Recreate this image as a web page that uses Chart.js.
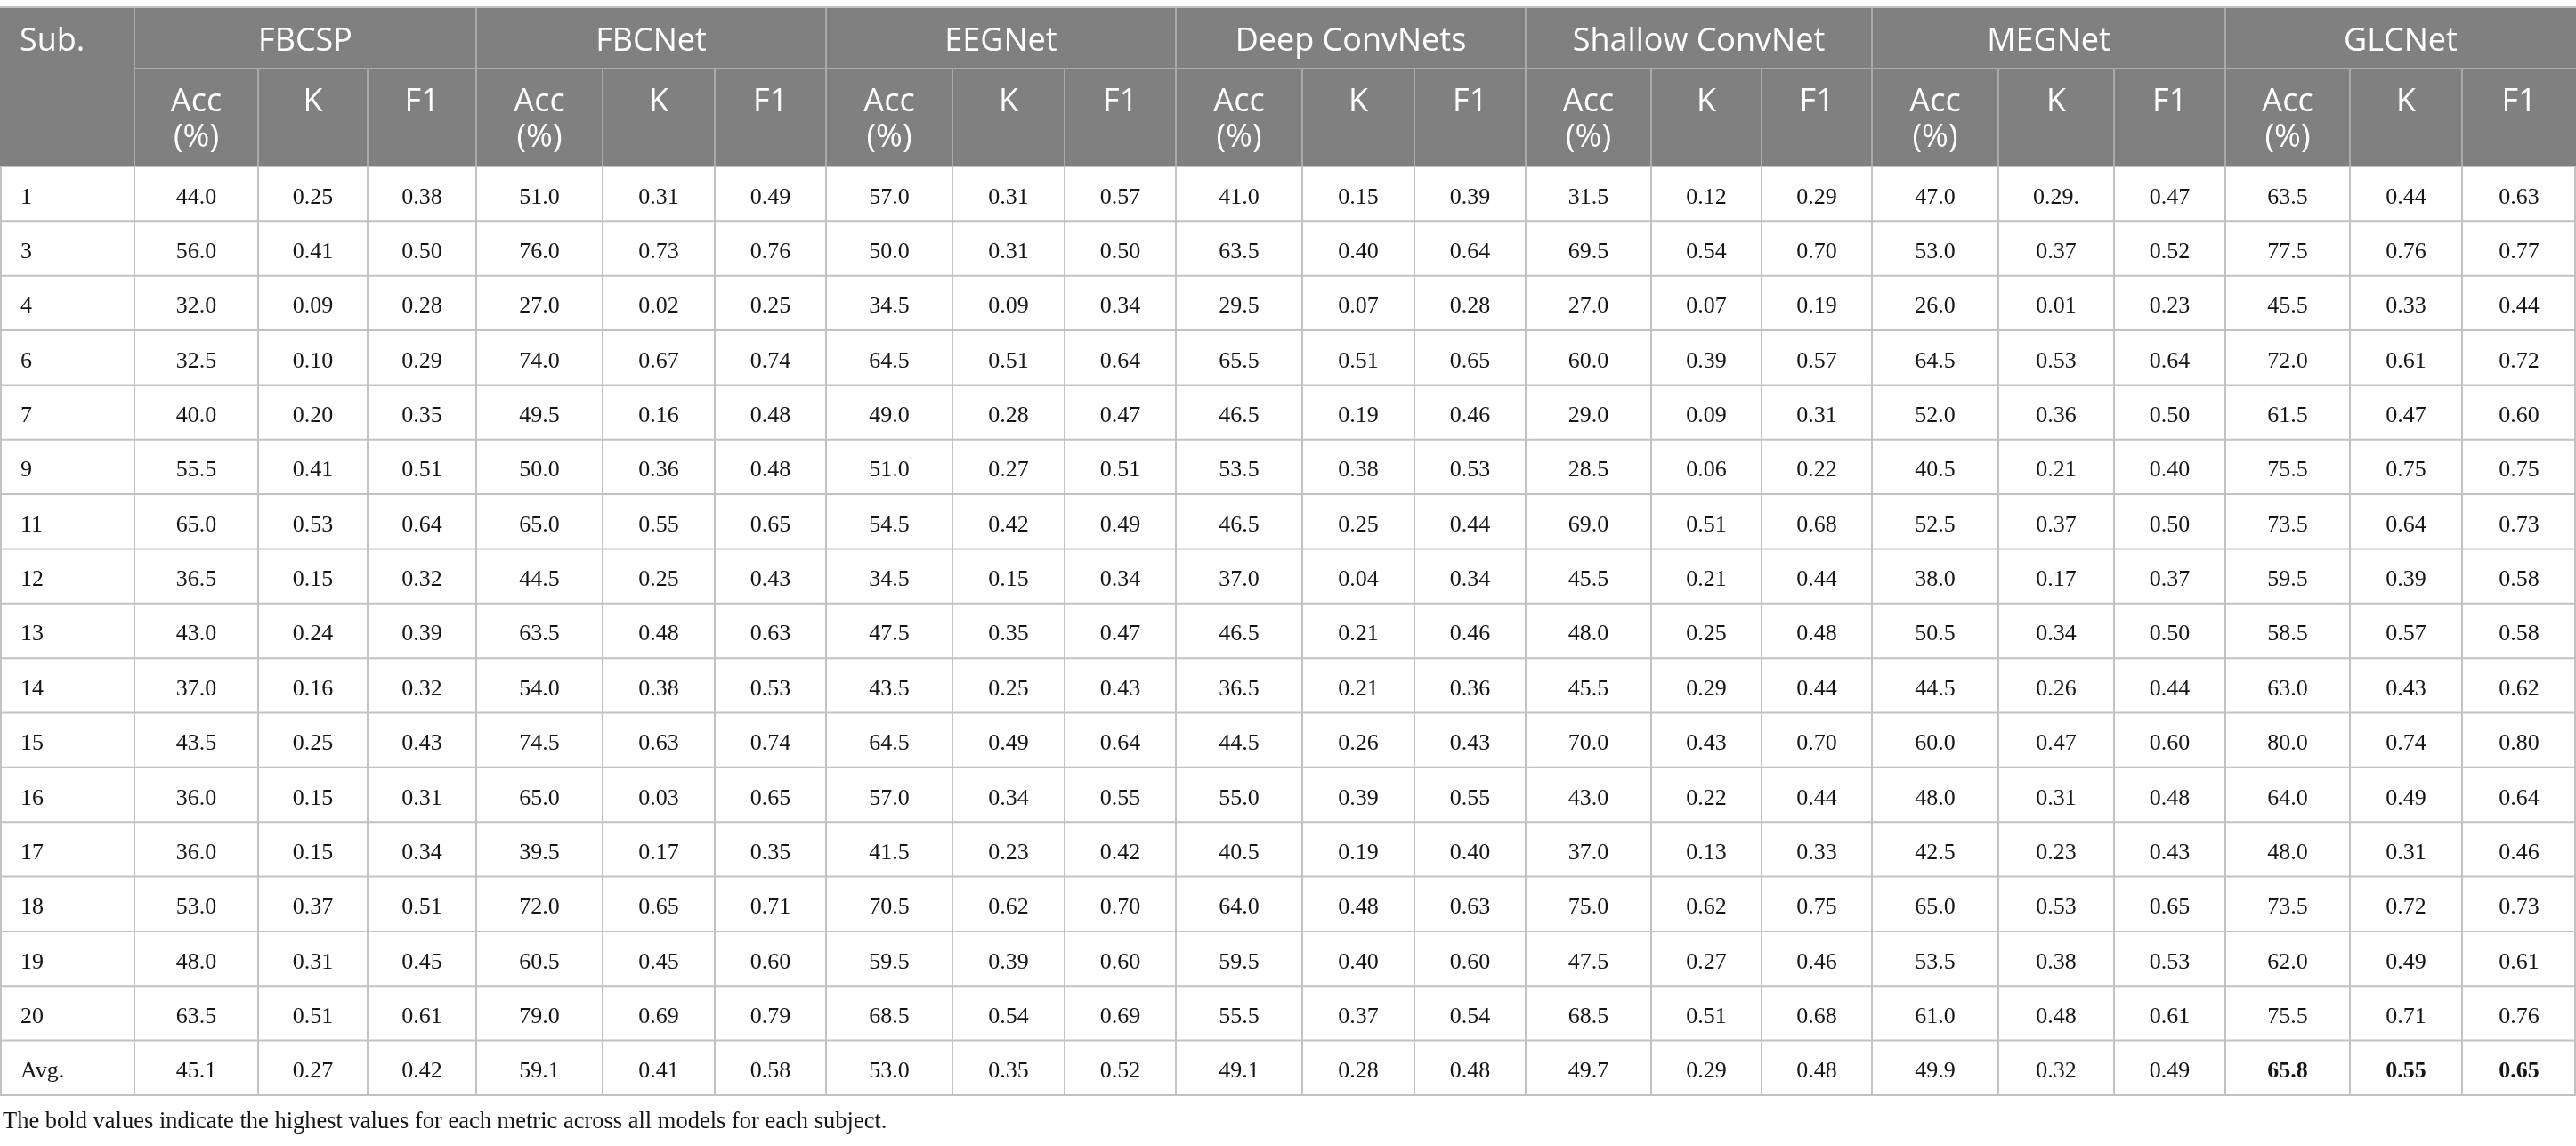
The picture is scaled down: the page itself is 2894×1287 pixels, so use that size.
<!DOCTYPE html>
<html>
<head>
<meta charset="utf-8">
<script src="https://cdn.jsdelivr.net/npm/chart.js@4.4.1/dist/chart.umd.min.js"></script>
<style>
html,body{margin:0;padding:0;background:#ffffff;overflow:hidden}
canvas{display:block}
</style>
</head>
<body>
<canvas id="c" width="2894" height="1287"></canvas>
<script>
// ---------------- DATA ----------------
const subjects = ['1','3','4','6','7','9','11','12','13','14','15','16','17','18','19','20','Avg.'];
const models = ['FBCSP','FBCNet','EEGNet','Deep ConvNets','Shallow ConvNet','MEGNet','GLCNet'];
const metricHeaders = [['Acc','(%)'],['K'],['F1']];
const subHeader = 'Sub.';

const fbcspAcc = ['44.0','56.0','32.0','32.5','40.0','55.5','65.0','36.5','43.0','37.0','43.5','36.0','36.0','53.0','48.0','63.5','45.1'];
const fbcspK   = ['0.25','0.41','0.09','0.10','0.20','0.41','0.53','0.15','0.24','0.16','0.25','0.15','0.15','0.37','0.31','0.51','0.27'];
const fbcspF1  = ['0.38','0.50','0.28','0.29','0.35','0.51','0.64','0.32','0.39','0.32','0.43','0.31','0.34','0.51','0.45','0.61','0.42'];

const fbcnetAcc = ['51.0','76.0','27.0','74.0','49.5','50.0','65.0','44.5','63.5','54.0','74.5','65.0','39.5','72.0','60.5','79.0','59.1'];
const fbcnetK   = ['0.31','0.73','0.02','0.67','0.16','0.36','0.55','0.25','0.48','0.38','0.63','0.03','0.17','0.65','0.45','0.69','0.41'];
const fbcnetF1  = ['0.49','0.76','0.25','0.74','0.48','0.48','0.65','0.43','0.63','0.53','0.74','0.65','0.35','0.71','0.60','0.79','0.58'];

const eegnetAcc = ['57.0','50.0','34.5','64.5','49.0','51.0','54.5','34.5','47.5','43.5','64.5','57.0','41.5','70.5','59.5','68.5','53.0'];
const eegnetK   = ['0.31','0.31','0.09','0.51','0.28','0.27','0.42','0.15','0.35','0.25','0.49','0.34','0.23','0.62','0.39','0.54','0.35'];
const eegnetF1  = ['0.57','0.50','0.34','0.64','0.47','0.51','0.49','0.34','0.47','0.43','0.64','0.55','0.42','0.70','0.60','0.69','0.52'];

const deepAcc = ['41.0','63.5','29.5','65.5','46.5','53.5','46.5','37.0','46.5','36.5','44.5','55.0','40.5','64.0','59.5','55.5','49.1'];
const deepK   = ['0.15','0.40','0.07','0.51','0.19','0.38','0.25','0.04','0.21','0.21','0.26','0.39','0.19','0.48','0.40','0.37','0.28'];
const deepF1  = ['0.39','0.64','0.28','0.65','0.46','0.53','0.44','0.34','0.46','0.36','0.43','0.55','0.40','0.63','0.60','0.54','0.48'];

const shallowAcc = ['31.5','69.5','27.0','60.0','29.0','28.5','69.0','45.5','48.0','45.5','70.0','43.0','37.0','75.0','47.5','68.5','49.7'];
const shallowK   = ['0.12','0.54','0.07','0.39','0.09','0.06','0.51','0.21','0.25','0.29','0.43','0.22','0.13','0.62','0.27','0.51','0.29'];
const shallowF1  = ['0.29','0.70','0.19','0.57','0.31','0.22','0.68','0.44','0.48','0.44','0.70','0.44','0.33','0.75','0.46','0.68','0.48'];

const megnetAcc = ['47.0','53.0','26.0','64.5','52.0','40.5','52.5','38.0','50.5','44.5','60.0','48.0','42.5','65.0','53.5','61.0','49.9'];
const megnetK   = ['0.29.','0.37','0.01','0.53','0.36','0.21','0.37','0.17','0.34','0.26','0.47','0.31','0.23','0.53','0.38','0.48','0.32'];
const megnetF1  = ['0.47','0.52','0.23','0.64','0.50','0.40','0.50','0.37','0.50','0.44','0.60','0.48','0.43','0.65','0.53','0.61','0.49'];

const glcnetAcc = ['63.5','77.5','45.5','72.0','61.5','75.5','73.5','59.5','58.5','63.0','80.0','64.0','48.0','73.5','62.0','75.5','65.8'];
const glcnetK   = ['0.44','0.76','0.33','0.61','0.47','0.75','0.64','0.39','0.57','0.43','0.74','0.49','0.31','0.72','0.49','0.71','0.55'];
const glcnetF1  = ['0.63','0.77','0.44','0.72','0.60','0.75','0.73','0.58','0.58','0.62','0.80','0.64','0.46','0.73','0.61','0.76','0.65'];

const caption = 'The bold values indicate the highest values for each metric across all models for each subject.';
const boldRowLabel = 'Avg.';

const modelSeries = [
  [fbcspAcc, fbcspK, fbcspF1],
  [fbcnetAcc, fbcnetK, fbcnetF1],
  [eegnetAcc, eegnetK, eegnetF1],
  [deepAcc, deepK, deepF1],
  [shallowAcc, shallowK, shallowF1],
  [megnetAcc, megnetK, megnetF1],
  [glcnetAcc, glcnetK, glcnetF1]
];

// ---------------- LAYOUT / STYLE ----------------
const colWidths = [151, 139,123,122, 142,126,125, 142,126,125, 142,126,125, 141,124,124, 142,130,125, 140,126,128];
const layout = { top: 8, head1: 69, head2: 110, rowH: 61.35, canvasH: 1287,
                 subPad: 23, headBase1: 49, headBase2: 48, headLine: 40, cellBase: 11,
                 captionX: 3, captionBase: 1267 };
const style = {
  headBg: '#808080', headLine: '#a9a9a9', headText: '#ffffff',
  bodyLine: '#c2c2c2', bodyText: '#161616', lineW: 2,
  headFont: '36px "Open Sans"', bodyFont: '26px "Liberation Serif"',
  bodyBold: 'bold 26px "Liberation Serif"', captionFont: '26.5px "Liberation Serif"'
};

const colEdges = [0];
colWidths.forEach(w => colEdges.push(colEdges[colEdges.length - 1] + w));
const totalW = colEdges[colEdges.length - 1];
const rowEdges = [layout.top, layout.top + layout.head1, layout.top + layout.head1 + layout.head2];
subjects.forEach(() => rowEdges.push(rowEdges[rowEdges.length - 1] + layout.rowH));
const bodyTop = rowEdges[2], bodyBottom = rowEdges[rowEdges.length - 1];
const colCenter = c => (colEdges[c] + colEdges[c + 1]) / 2;
const rowCenter = r => (rowEdges[2 + r] + rowEdges[3 + r]) / 2;

// which cells in the bold row are the best per metric
const boldRowIdx = subjects.indexOf(boldRowLabel);
const bestModel = [0, 1, 2].map(k => {
  let best = 0;
  modelSeries.forEach((s, m) => { if (parseFloat(s[k][boldRowIdx]) > parseFloat(modelSeries[best][k][boldRowIdx])) best = m; });
  return best;
});

// datasets: one per table column, one point per row
const datasets = [{
  label: subHeader, align: 'left', colIndex: 0,
  data: subjects.map((s, r) => ({ x: colEdges[0] + layout.subPad, y: rowCenter(r), text: s, bold: false }))
}];
modelSeries.forEach((ms, m) => {
  ms.forEach((vals, k) => {
    const c = 1 + m * 3 + k;
    datasets.push({
      label: models[m] + ' ' + metricHeaders[k].join(' '), align: 'center', colIndex: c,
      data: vals.map((v, r) => ({ x: colCenter(c), y: rowCenter(r), text: v,
                                   bold: r === boldRowIdx && bestModel[k] === m }))
    });
  });
});

// ---------------- PLUGIN ----------------
const tablePlugin = {
  id: 'tablePlugin',
  beforeDatasetsDraw(chart) {
    const { ctx } = chart;
    const xs = chart.scales.x, ys = chart.scales.y;
    const px = v => xs.getPixelForValue(v), py = v => ys.getPixelForValue(v);
    ctx.save();
    // header background
    ctx.fillStyle = style.headBg;
    ctx.fillRect(px(0), py(rowEdges[0]), px(totalW) - px(0), py(bodyTop) - py(rowEdges[0]));

    const line = (x1, y1, x2, y2, color) => {
      ctx.strokeStyle = color; ctx.lineWidth = style.lineW;
      ctx.beginPath(); ctx.moveTo(px(x1), py(y1)); ctx.lineTo(px(x2), py(y2)); ctx.stroke();
    };
    // header lines
    line(colEdges[1], rowEdges[1], totalW, rowEdges[1], style.headLine);
    colEdges.forEach((e, i) => {
      if (i === 0 || i === colEdges.length - 1) return;
      if ((i - 1) % 3 === 0) line(e, rowEdges[0], e, bodyTop, style.headLine);
      else line(e, rowEdges[1], e, bodyTop, style.headLine);
    });
    // outer top border
    line(0, rowEdges[0], totalW, rowEdges[0], style.bodyLine);
    // body lines
    for (let i = 2; i < rowEdges.length; i++) line(0, rowEdges[i], totalW, rowEdges[i], style.bodyLine);
    colEdges.forEach((e, i) => {
      const xx = i === 0 ? 1 : (i === colEdges.length - 1 ? totalW - 1 : e);
      line(xx, bodyTop, xx, bodyBottom, style.bodyLine);
    });

    // header texts
    ctx.fillStyle = style.headText;
    ctx.font = style.headFont;
    ctx.textBaseline = 'alphabetic';
    ctx.textAlign = 'left';
    ctx.fillText(subHeader, px(colEdges[0] + layout.subPad - 1), py(rowEdges[0] + layout.headBase1));
    ctx.textAlign = 'center';
    models.forEach((m, i) => {
      const cx = (colEdges[1 + i * 3] + colEdges[4 + i * 3]) / 2;
      ctx.fillText(m, px(cx), py(rowEdges[0] + layout.headBase1));
    });
    for (let c = 1; c < colEdges.length - 1; c++) {
      const lines = metricHeaders[(c - 1) % 3];
      lines.forEach((t, li) => {
        ctx.fillText(t, px(colCenter(c)), py(rowEdges[1] + layout.headBase2 + li * layout.headLine));
      });
    }

    // caption
    ctx.fillStyle = style.bodyText;
    ctx.font = style.captionFont;
    ctx.textAlign = 'left';
    ctx.fillText(caption, px(layout.captionX), py(layout.captionBase));
    ctx.restore();
  },
  afterDatasetsDraw(chart) {
    const { ctx } = chart;
    ctx.save();
    ctx.fillStyle = style.bodyText;
    ctx.textBaseline = 'alphabetic';
    chart.data.datasets.forEach((ds, di) => {
      const meta = chart.getDatasetMeta(di);
      ctx.textAlign = ds.align;
      meta.data.forEach((el, i) => {
        const d = ds.data[i];
        ctx.font = d.bold ? style.bodyBold : style.bodyFont;
        ctx.fillText(d.text, el.x, el.y + layout.cellBase);
      });
    });
    ctx.restore();
  }
};

function build() {
  new Chart(document.getElementById('c'), {
    type: 'scatter',
    data: { datasets: datasets.map(d => Object.assign({ pointRadius: 0, pointHoverRadius: 0, showLine: false }, d)) },
    options: {
      responsive: false, devicePixelRatio: 1, animation: false, events: [],
      layout: { padding: 0 },
      plugins: { legend: { display: false }, tooltip: { enabled: false }, title: { display: false } },
      scales: {
        x: { type: 'linear', display: false, min: 0, max: totalW },
        y: { type: 'linear', display: false, reverse: true, min: 0, max: layout.canvasH }
      }
    },
    plugins: [tablePlugin]
  });
}
Promise.all([
  document.fonts.load(style.headFont, 'FBCSP'),
  document.fonts.load(style.bodyFont, '0.1'),
  document.fonts.load(style.bodyBold, '0.1')
]).then(build, build);
</script>
</body>
</html>
